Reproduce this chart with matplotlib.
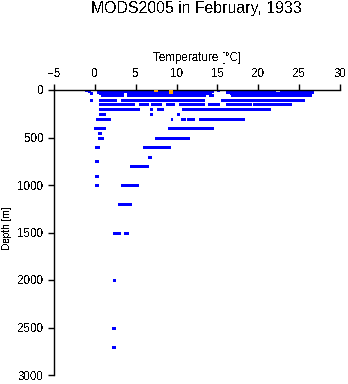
import numpy as np
import matplotlib
matplotlib.use("Agg")
import matplotlib.pyplot as plt

plt.rcParams['font.family'] = ['Liberation Sans', 'DejaVu Sans']
plt.rcParams['text.antialiased'] = False

# observation runs: depth [m], lowest and highest temperature [degC] of each run
run_depth = [0, 0, 0, 0, 0,
             10, 10, 10, 10,
             20, 20, 20, 20,
             30, 30, 30, 30,
             50, 50, 50, 50,
             100, 100, 100, 100,
             150, 150, 150, 150, 150, 150, 150, 150,
             180,
             200, 200, 200, 200, 200,
             250, 250, 250,
             300, 300, 300, 300, 300,
             330,
             400, 400, 400,
             450,
             500, 500,
             600, 600, 600,
             700, 750, 800, 900,
             1000, 1000, 1000,
             1200, 1500, 1500,
             2000, 2500, 2700]
run_lo = [-1.2, 0.4, 14.9, 16.2, 22.7,
          -0.9, 0.6, 16.3, 22.8,
          0.3, 3.9, 16.0, 22.6,
          -0.6, 0.5, 3.9, 16.5,
          0.7, 3.9, 14.0, 16.6,
          -0.6, 0.55, 3.2, 15.4,
          0.55, 5.4, 6.9, 8.7, 10.3, 13.8, 16.1, 19.3,
          -0.3,
          0.5, 6.7, 7.6, 10.7, 13.8,
          0.55, 6.7, 10.0,
          0.2, 9.3, 10.5, 11.3, 12.8,
          0.8,
          -0.05, 9.0, 14.7,
          0.35,
          0.35, 7.3,
          0.0, 5.9, 6.4,
          6.55, 0.06, 4.35, 0.0,
          0.0, 3.2, 4.8,
          2.8, 2.25, 3.6,
          2.2, 2.15, 2.15]
run_hi = [-0.8, 14.3, 15.2, 22.0, 26.7,
          -0.6, 14.4, 21.9, 26.6,
          3.5, 14.2, 22.1, 26.7,
          -0.3, 3.5, 13.8, 26.5,
          3.5, 13.5, 14.5, 26.4,
          -0.3, 2.6, 13.4, 25.6,
          4.8, 6.5, 8.1, 9.7, 13.4, 15.2, 19.1, 24.0,
          -0.3,
          5.4, 7.0, 8.3, 13.7, 21.4,
          1.2, 7.0, 10.3,
          1.8, 9.5, 11.0, 12.1, 18.2,
          0.8,
          1.2, 14.5, 14.7,
          0.7,
          0.95, 11.5,
          0.55, 6.3, 9.2,
          6.9, 0.4, 6.55, 0.35,
          0.35, 4.75, 5.3,
          4.4, 3.1, 4.1,
          2.5, 2.45, 2.45]

# flagged observations
flag_depth = [5, 20]
flag_temp = [7.5, 9.3]

x_ticks = [-5, 0, 5, 10, 15, 20, 25, 30]
y_ticks = [0, 500, 1000, 1500, 2000, 2500, 3000]

fig = plt.figure(figsize=(3.48, 3.84), dpi=100)
ax = fig.add_axes([54 / 348, 9 / 384, 286 / 348, 285 / 384])

ax.hlines(run_depth, run_lo, run_hi, colors='#0000ff', linewidth=1.0,
          capstyle='butt', antialiased=False)
ax.scatter(flag_temp, flag_depth, marker='s', s=9, color='#ffa500',
           linewidths=0, zorder=3, antialiased=False)

ax.set_xlim(-5, 30)
ax.set_ylim(3000, 0)
ax.set_xticks(x_ticks)
ax.set_yticks(y_ticks)
ax.xaxis.tick_top()
ax.xaxis.set_label_position('top')
for side in ['bottom', 'right']:
    ax.spines[side].set_visible(False)
for side in ['top', 'left']:
    ax.spines[side].set_linewidth(1.0)
ax.tick_params(axis='both', direction='out', length=4, width=1.0,
               labelsize=8.4, pad=3.5)
ax.set_xlabel('Temperature [°C]', fontsize=8.4, labelpad=5)
ax.set_ylabel('Depth [m]', fontsize=7.2)
ax.yaxis.set_label_coords(-0.148, 0.516)

fig.text(196 / 348, 1 - 8.5 / 384, 'MODS2005 in February, 1933',
         ha='center', va='center', fontsize=11.4)

fig.savefig('out.png', dpi=100)
